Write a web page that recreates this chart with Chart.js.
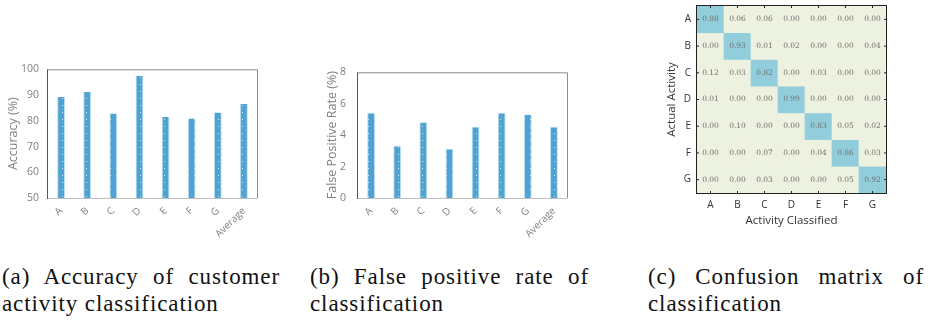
<!DOCTYPE html>
<html>
<head>
<meta charset="utf-8">
<script src="https://cdn.jsdelivr.net/npm/chart.js@4/dist/chart.umd.min.js"></script>
<style>
  body { margin: 0; width: 934px; height: 321px; background: #fff; position: relative; overflow: hidden; }
  .box { position: absolute; }
  .cap { position: absolute; font-family: "Liberation Serif", serif; font-size: 23px; line-height: 27px; letter-spacing: 0.9px; color: #111; text-align: justify; }
</style>
</head>
<body>
<div class="box" style="left:0;top:54px;width:270px;height:196px"><canvas id="graficoAcuracia"></canvas></div>
<div class="box" style="left:300px;top:54px;width:290px;height:196px"><canvas id="graficoFalsoPositivo"></canvas></div>
<div class="box" style="left:660px;top:-6px;width:274px;height:243px"><canvas id="graficoConfusao"></canvas></div>

<div class="cap" style="left:2px;top:263px;width:278px">(a) Accuracy of customer activity classification</div>
<div class="cap" style="left:310px;top:263px;width:279px">(b) False positive rate of classification</div>
<div class="cap" style="left:648px;top:263px;width:276px">(c) Confusion matrix of classification</div>

<script>
// Dados dos gráficos
const categorias = ['A', 'B', 'C', 'D', 'E', 'F', 'G', 'Average'];
const acuracia = [89.2, 91.3, 82.8, 97.4, 81.5, 80.9, 83.2, 86.5];
const falsoPositivo = [5.4, 3.3, 4.8, 3.1, 4.5, 5.4, 5.3, 4.5];
const ticksAcuracia = [50, 60, 70, 80, 90, 100];
const ticksFalsoPositivo = [0, 2, 4, 6, 8];

// Matriz de confusão (linhas = atividade real, colunas = classificada)
const atividades = ['A', 'B', 'C', 'D', 'E', 'F', 'G'];
const confusao = [
    [0.88, 0.06, 0.06, 0.00, 0.00, 0.00, 0.00],
    [0.00, 0.93, 0.01, 0.02, 0.00, 0.00, 0.04],
    [0.12, 0.03, 0.82, 0.00, 0.03, 0.00, 0.00],
    [0.01, 0.00, 0.00, 0.99, 0.00, 0.00, 0.00],
    [0.00, 0.10, 0.00, 0.00, 0.83, 0.05, 0.02],
    [0.00, 0.00, 0.07, 0.00, 0.04, 0.86, 0.03],
    [0.00, 0.00, 0.03, 0.00, 0.00, 0.05, 0.92]
];

const corCinza = '#7f7f7f';

function criarPadraoPontilhado() {
    const c = document.createElement('canvas');
    c.width = 6; c.height = 7;
    const g = c.getContext('2d');
    g.fillStyle = '#4ea3d2';
    g.fillRect(0, 0, 6, 7);
    g.fillStyle = 'rgba(255,255,255,0.75)';
    g.fillRect(2, 2, 1, 1);
    return g.createPattern(c, 'repeat');
}

// Moldura em volta da área do gráfico
const molduraPlugin = {
    id: 'moldura',
    afterDraw(chart) {
        const { ctx, chartArea: a } = chart;
        ctx.save();
        ctx.lineWidth = 1;
        ctx.strokeStyle = '#8c8c8c';
        ctx.beginPath();
        ctx.moveTo(a.left, a.top + 0.5); ctx.lineTo(a.right + 0.5, a.top + 0.5); ctx.lineTo(a.right + 0.5, a.bottom);
        ctx.stroke();
        ctx.strokeStyle = '#c0c0c0';
        ctx.beginPath();
        ctx.moveTo(a.left, a.bottom + 0.5); ctx.lineTo(a.right + 0.5, a.bottom + 0.5);
        ctx.stroke();
        ctx.strokeStyle = '#555';
        ctx.beginPath();
        ctx.moveTo(a.left - 0.5, a.top); ctx.lineTo(a.left - 0.5, a.bottom + 1);
        ctx.stroke();
        ctx.restore();
    }
};

function renderizarGraficoBarras(id, valores, ticksY, tituloY, larguraEixoY, tituloPad, tickPad, padDireita) {
    const ctx = document.getElementById(id).getContext('2d');
    new Chart(ctx, {
        type: 'bar',
        data: {
            labels: categorias,
            datasets: [{
                data: valores,
                backgroundColor: criarPadraoPontilhado(),
                borderColor: '#b9def1',
                borderWidth: { left: 1, right: 1, top: 0, bottom: 0 },
                barPercentage: 0.3,
                categoryPercentage: 1
            }]
        },
        options: {
            responsive: true,
            maintainAspectRatio: false,
            animation: false,
            layout: { padding: { top: 1, right: padDireita, left: 0, bottom: 0 } },
            plugins: { legend: { display: false }, tooltip: { enabled: false } },
            scales: {
                x: {
                    grid: { display: false, drawTicks: false },
                    border: { display: false },
                    ticks: { color: corCinza, font: { family: 'Open Sans', size: 10 }, minRotation: 45, maxRotation: 45, padding: 7 },
                    afterFit(scale) { scale.height = 52; }
                },
                y: {
                    min: ticksY[0],
                    max: ticksY[ticksY.length - 1],
                    grid: { display: false, drawTicks: false },
                    border: { display: false },
                    afterBuildTicks(scale) { scale.ticks = ticksY.map(v => ({ value: v })); },
                    ticks: { color: corCinza, font: { family: 'Open Sans', size: 10.5 }, padding: tickPad },
                    title: { display: true, text: tituloY, color: corCinza, font: { family: 'Open Sans', size: 12.5 }, padding: { top: tituloPad, bottom: 0 } },
                    afterFit(scale) { scale.width = larguraEixoY; }
                }
            }
        },
        plugins: [molduraPlugin]
    });
}

renderizarGraficoBarras('graficoAcuracia', acuracia, ticksAcuracia, 'Accuracy (%)', 48, 6, 9, 13);
renderizarGraficoBarras('graficoFalsoPositivo', falsoPositivo, ticksFalsoPositivo, 'False Positive Rate (%)', 58, 25, 12, 23);

// Matriz de confusão com barras empilhadas (uma célula por barra)
const corDiagonal = '#92cddc';
const corFundo = '#edf1e0';

const textoCelulasPlugin = {
    id: 'textoCelulas',
    afterDatasetsDraw(chart) {
        const { ctx, chartArea: a } = chart;
        ctx.save();
        ctx.font = '7.5px "DejaVu Serif"';
        ctx.fillStyle = '#707070';
        ctx.textAlign = 'center';
        ctx.textBaseline = 'middle';
        chart.data.datasets.forEach((ds, i) => {
            chart.getDatasetMeta(i).data.forEach((el, j) => {
                ctx.fillText(confusao[i][j].toFixed(2), el.x, (el.y + el.base) / 2);
            });
        });
        // borda e pequenos traços
        ctx.strokeStyle = '#222';
        ctx.lineWidth = 1;
        ctx.strokeRect(a.left - 0.5, a.top - 0.5, a.right - a.left + 1, a.bottom - a.top + 1);
        ctx.beginPath();
        const cw = (a.right - a.left) / atividades.length;
        const ch = (a.bottom - a.top) / atividades.length;
        for (let k = 0; k < atividades.length; k++) {
            const x = a.left + cw * (k + 0.5);
            const y = a.top + ch * (k + 0.5);
            ctx.moveTo(x, a.top); ctx.lineTo(x, a.top + 2);
            ctx.moveTo(x, a.bottom); ctx.lineTo(x, a.bottom - 2);
            ctx.moveTo(a.left, y); ctx.lineTo(a.left + 2, y);
            ctx.moveTo(a.right, y); ctx.lineTo(a.right - 2, y);
        }
        ctx.stroke();
        ctx.restore();
    }
};

new Chart(document.getElementById('graficoConfusao').getContext('2d'), {
    type: 'bar',
    data: {
        labels: atividades,
        datasets: atividades.map((linha, i) => ({
            label: linha,
            data: atividades.map(() => 1),
            backgroundColor: atividades.map((_, j) => (i === j ? corDiagonal : corFundo)),
            borderWidth: 0,
            barPercentage: 1,
            categoryPercentage: 1
        }))
    },
    options: {
        responsive: true,
        maintainAspectRatio: false,
        animation: false,
        layout: { padding: { top: 0, right: 48, left: 0, bottom: 0 } },
        plugins: { legend: { display: false }, tooltip: { enabled: false } },
        scales: {
            x: {
                stacked: true,
                grid: { display: false, drawTicks: false },
                border: { display: false },
                ticks: { color: '#333', font: { family: 'Open Sans', size: 10 }, padding: 6 },
                title: { display: true, text: 'Activity Classified', color: '#333', font: { family: 'Open Sans', size: 11.5 }, padding: { top: 2, bottom: 9 } },
                afterFit(scale) { scale.height = 44; }
            },
            y: {
                stacked: true,
                reverse: true,
                min: 0,
                max: atividades.length,
                grid: { display: false, drawTicks: false },
                border: { display: false },
                afterBuildTicks(scale) { scale.ticks = atividades.map((_, i) => ({ value: i + 0.5 })); },
                ticks: {
                    color: '#333',
                    font: { family: 'Open Sans', size: 10 },
                    padding: 6,
                    callback: v => atividades[Math.floor(v)]
                },
                title: { display: true, text: 'Actual Activity', color: '#333', font: { family: 'Open Sans', size: 11.5 }, padding: { top: 5, bottom: 0 } },
                afterFit(scale) { scale.width = 37; }
            }
        }
    },
    plugins: [textoCelulasPlugin]
});
</script>
</body>
</html>
